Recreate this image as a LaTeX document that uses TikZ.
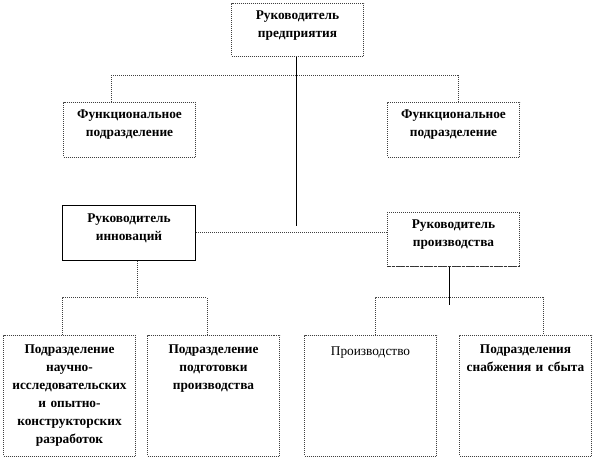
\documentclass[tikz,border=0pt]{standalone}
\usepackage{fontspec}
\setmainfont{Liberation Serif}
\begin{document}
\begin{tikzpicture}[x=0.75pt,y=-0.75pt,
  box/.style={draw=black!75, line width=0.75pt, dash pattern=on 0.75pt off 0.75pt, fill=white, anchor=north west, inner sep=0pt},
  solidbox/.style={draw=black, line width=0.75pt, fill=white, anchor=north west, inner sep=0pt},
  txt/.style={anchor=north, align=center, font=\fontsize{10}{13.5}\selectfont\bfseries, inner sep=0pt},
  dline/.style={draw=black!75, line width=0.75pt, dash pattern=on 0.75pt off 0.75pt},
  sline/.style={draw=black, line width=0.75pt}]
\useasboundingbox (0,0) rectangle (594,459);
% boxes
\node[box, minimum width=132*0.75pt, minimum height=53*0.75pt] (top) at (231,3) {};
\node[box, minimum width=132*0.75pt, minimum height=55*0.75pt] (fl) at (63,102) {};
\node[box, minimum width=132*0.75pt, minimum height=55*0.75pt] (fr) at (387,102) {};
\node[solidbox, minimum width=133*0.75pt, minimum height=55*0.75pt] (inn) at (62,205) {};
\node[box, minimum width=132*0.75pt, minimum height=54*0.75pt] (pro) at (387,212) {};
\node[box, minimum width=132*0.75pt, minimum height=121*0.75pt] (b1) at (3,335) {};
\node[box, minimum width=132*0.75pt, minimum height=121*0.75pt] (b2) at (147,335) {};
\node[box, minimum width=132*0.75pt, minimum height=121*0.75pt] (b3) at (304,335) {};
\node[box, minimum width=132*0.75pt, minimum height=121*0.75pt] (b4) at (459,335) {};
% dashed bottom of production box
\draw[draw=black!80, line width=0.75pt, dash pattern=on 2.5pt off 1pt] (pro.south west) -- (pro.south east);
% texts
\node[txt, text width=110*0.75pt] (ttop) at ([yshift=-8*0.75pt]top.north) {Руководитель\\предприятия};
\node[txt, text width=110*0.75pt] (tfl) at ([yshift=-8*0.75pt]fl.north) {Функциональное\\подразделение};
\node[txt, text width=110*0.75pt] (tfr) at ([yshift=-8*0.75pt]fr.north) {Функциональное\\подразделение};
\node[txt, text width=110*0.75pt] (tinn) at ([yshift=-9*0.75pt]inn.north) {Руководитель\\инноваций};
\node[txt, text width=110*0.75pt] (tpro) at ([yshift=-8*0.75pt]pro.north) {Руководитель\\производства};
\node[txt, text width=120*0.75pt] (tb1) at ([yshift=-10*0.75pt]b1.north) {Подразделение\\научно-\\исследовательских\\и опытно-\\конструкторских\\разработок};
\node[txt, text width=120*0.75pt] (tb2) at ([yshift=-10*0.75pt]b2.north) {Подразделение\\подготовки\\производства};
\node[txt, text width=120*0.75pt, font=\fontsize{10}{13.5}\selectfont] (tb3) at ([yshift=-12*0.75pt]b3.north) {Производство};
\node[txt, text width=125*0.75pt] (tb4) at ([yshift=-10*0.75pt]b4.north) {Подразделения\\снабжения и сбыта};
% connectors
\coordinate (c1) at (296,226);
\draw[sline] (top.south -| c1) -- (c1);
\coordinate (hl) at (111,76);
\coordinate (hr) at (458,76);
\draw[dline] (fl.north -| hl) -- (hl) -- (hr) -- (fr.north -| hr);
\draw[dline] (inn.east |- 0,233) -- (pro.west |- 0,233);
% innovations branch
\coordinate (ia) at (137,298);
\draw[dline] (inn.south -| ia) -- (ia);
\draw[dline] (b1.north -| 62,0) -- (62,298) -- (207,298) -- (b2.north -| 207,0);
% production branch
\coordinate (pa) at (449,305);
\draw[sline] (pro.south -| pa) -- (pa);
\draw[dline] (b3.north -| 375,0) -- (375,298) -- (543,298) -- (b4.north -| 543,0);
\end{tikzpicture}
\end{document}
